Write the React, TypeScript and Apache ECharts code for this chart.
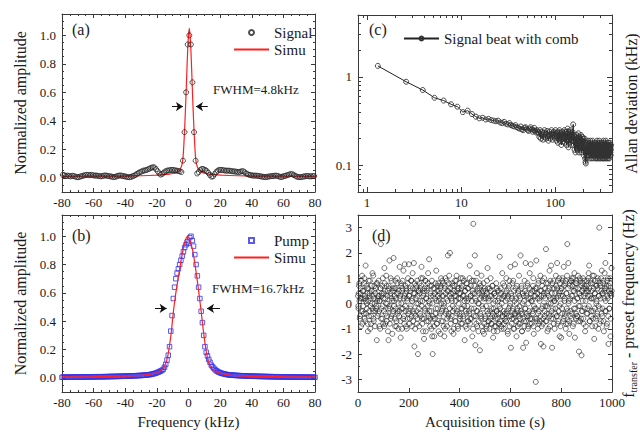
import React, { useEffect, useRef } from "react";
import * as echarts from "echarts";

const FONT = "'Liberation Serif', 'DejaVu Serif', serif";
const TXT = "#1a1a1a";
const AX = "#3a3a3a";
const RED = "#ff1f1f";
const BLUE = "#2f2ff0";

// ---------- (a) signal spectrum ----------
const signalStart = -79.5;
const signalStep = 1;
const signalAmp = [
  0.02, 0.018, 0.012, 0.015, 0.012, 0.01, 0.014, 0.012, 0.008, 0.004,
  0.004, 0.008, 0.012, 0.015, 0.018, 0.02, 0.02, 0.018, 0.02, 0.018,
  0.015, 0.016, 0.014, 0.012, 0.01, 0.012, 0.015, 0.016, 0.014, 0.012,
  0.01, 0.008, 0.005, 0.006, 0.01, 0.014, 0.016, 0.015, 0.012, 0.01,
  0.008, 0.005, 0.004, 0.006, 0.01, 0.014, 0.02, 0.028, 0.035, 0.04,
  0.045, 0.05, 0.052, 0.055, 0.06, 0.065, 0.07, 0.074, 0.072, 0.06,
  0.045, 0.03, 0.022, 0.028, 0.038, 0.045, 0.05, 0.052, 0.054, 0.055,
  0.054, 0.052, 0.05, 0.048, 0.045, 0.04, 0.12, 0.32, 0.6, 0.936,
  1.0, 0.936, 0.67, 0.32, 0.12, 0.03, 0.04, 0.055, 0.062, 0.06,
  0.055, 0.048, 0.035, 0.02, 0.008, 0.01, 0.025, 0.04, 0.05, 0.055,
  0.055, 0.054, 0.052, 0.05, 0.05, 0.05, 0.048, 0.046, 0.045, 0.044,
  0.042, 0.04, 0.042, 0.045, 0.046, 0.04, 0.03, 0.025, 0.02, 0.018,
  0.016, 0.015, 0.015, 0.014, 0.012, 0.01, 0.008, 0.006, 0.005, 0.006,
  0.008, 0.01, 0.012, 0.012, 0.014, 0.015, 0.012, 0.008, 0.005, 0.008,
  0.012, 0.015, 0.018, 0.022, 0.026, 0.025, 0.02, 0.014, 0.008, 0.005,
  0.004, 0.005, 0.008, 0.01, 0.012, 0.012, 0.01, 0.01, 0.012, 0.012,
];
const simuAX = [-80, -60, -40, -30, -20, -15, -12, -10, -8, -7, -6, -5, -4, -3.5, -3, -2.5, -2, -1.5, -1, -0.5, 0, 0.5, 1, 1.5, 2, 2.5, 3, 3.5, 4, 4.5, 5, 6, 7, 8, 9, 11, 13, 16, 21, 31, 41, 61, 80];
const simuAY = [0.01, 0.011, 0.012, 0.014, 0.018, 0.022, 0.026, 0.03, 0.036, 0.042, 0.05, 0.065, 0.1, 0.14, 0.22, 0.33, 0.46, 0.6, 0.76, 0.9, 1.0, 1.05, 1.0, 0.9, 0.76, 0.6, 0.46, 0.33, 0.22, 0.14, 0.1, 0.065, 0.05, 0.042, 0.036, 0.03, 0.026, 0.022, 0.018, 0.014, 0.012, 0.011, 0.01];
const arrowsA = [
  [[-10.4, 0.5], [-3.5, 0.5]],
  [[12.2, 0.5], [4.7, 0.5]],
];

// ---------- (b) pump spectrum ----------
const pumpStart = -80;
const pumpStep = 0.8;
const pumpAmp = [
  0.004, 0.005, 0.004, 0.005, 0.005, 0.004, 0.005, 0.005, 0.006, 0.005,
  0.005, 0.006, 0.005, 0.006, 0.006, 0.005, 0.006, 0.006, 0.006, 0.007,
  0.006, 0.007, 0.007, 0.006, 0.007, 0.007, 0.008, 0.007, 0.007, 0.008,
  0.008, 0.008, 0.007, 0.008, 0.009, 0.008, 0.009, 0.009, 0.009, 0.01,
  0.009, 0.01, 0.01, 0.01, 0.011, 0.01, 0.011, 0.011, 0.012, 0.011,
  0.012, 0.012, 0.012, 0.013, 0.013, 0.014, 0.014, 0.014, 0.015, 0.015,
  0.016, 0.016, 0.017, 0.017, 0.018, 0.019, 0.019, 0.02, 0.021, 0.022, 0.024,
  0.026, 0.028, 0.03, 0.033, 0.036, 0.04, 0.044, 0.048, 0.053, 0.06,
  0.075, 0.095, 0.125, 0.16, 0.22, 0.33, 0.44, 0.56, 0.64, 0.7,
  0.74, 0.77, 0.8, 0.83, 0.86, 0.89, 0.92, 0.94, 0.96, 0.95,
  0.99, 1.0, 0.97, 0.93, 0.87, 0.8, 0.72, 0.64, 0.56, 0.47,
  0.39, 0.3, 0.22, 0.18, 0.155, 0.13, 0.11, 0.09, 0.078, 0.068,
  0.058, 0.05, 0.045, 0.04, 0.036, 0.033, 0.03, 0.028, 0.026,
  0.024, 0.022, 0.021, 0.02, 0.019, 0.019, 0.018, 0.017, 0.017, 0.016,
  0.016, 0.015, 0.015, 0.014, 0.014, 0.014, 0.013, 0.013, 0.012, 0.012,
  0.012, 0.011, 0.012, 0.011, 0.011, 0.01, 0.011, 0.01, 0.01, 0.009,
  0.01, 0.009, 0.009, 0.009, 0.008, 0.009, 0.008, 0.008, 0.008, 0.007,
  0.008, 0.007, 0.007, 0.007, 0.007, 0.006, 0.007, 0.006, 0.006, 0.006,
  0.006, 0.006, 0.005, 0.006, 0.005, 0.005, 0.006, 0.005, 0.005, 0.005,
  0.005, 0.004, 0.005, 0.005, 0.004, 0.005, 0.004, 0.004, 0.005, 0.004, 0.004,
];
const simuBX = [-80, -60, -40, -30, -25, -20, -18, -16, -15, -14, -13, -12, -11, -10, -9, -8, -7, -6, -5, -4, -3, -2, -1, 0, 1, 2, 3, 4, 5, 6, 7, 8, 9, 10, 11, 12, 13, 14, 16, 18, 20, 25, 30, 40, 60, 80];
const simuBY = [0.007, 0.008, 0.012, 0.017, 0.024, 0.038, 0.048, 0.065, 0.085, 0.115, 0.16, 0.23, 0.31, 0.42, 0.52, 0.6, 0.67, 0.74, 0.81, 0.87, 0.93, 0.97, 0.995, 0.995, 0.97, 0.93, 0.88, 0.81, 0.73, 0.65, 0.56, 0.47, 0.37, 0.28, 0.2, 0.14, 0.1, 0.075, 0.05, 0.04, 0.033, 0.022, 0.016, 0.011, 0.008, 0.007];
const arrowsB = [
  [[-21.2, 0.49], [-13.8, 0.49]],
  [[19.9, 0.49], [11.7, 0.49]],
];

// ---------- (c) Allan deviation ----------
const allanTauStep = 1.3;
const allanDev = [
  1.33, 0.88, 0.71, 0.58, 0.54, 0.49, 0.46, 0.4, 0.415, 0.38, 0.355, 0.34, 0.345, 0.33, 0.335,
  0.325, 0.32, 0.315, 0.32, 0.305, 0.3, 0.31, 0.295, 0.29, 0.3, 0.285, 0.28, 0.275, 0.285, 0.27,
  0.265, 0.26, 0.275, 0.255, 0.25, 0.265, 0.27, 0.26, 0.25, 0.245, 0.26, 0.27, 0.255, 0.24, 0.25, 0.265, 0.245, 0.235, 0.25, 0.24,
  0.23, 0.21, 0.25, 0.2, 0.24, 0.22, 0.195, 0.235, 0.25, 0.21, 0.2, 0.23, 0.245, 0.215, 0.19, 0.22, 0.24, 0.2, 0.225, 0.25, 0.21, 0.195, 0.23, 0.24, 0.205, 0.215, 0.25, 0.22, 0.19, 0.235,
  0.22, 0.18, 0.24, 0.2, 0.25, 0.19, 0.21, 0.23, 0.17, 0.22, 0.24, 0.2, 0.185, 0.23, 0.21, 0.25, 0.18, 0.2, 0.24, 0.215,
  0.17, 0.23, 0.2, 0.26, 0.19, 0.16, 0.22, 0.24, 0.18, 0.21, 0.25, 0.2, 0.17, 0.23, 0.21, 0.19, 0.24, 0.22, 0.29, 0.2,
  0.17, 0.22, 0.15, 0.2, 0.18, 0.14, 0.21, 0.19, 0.16, 0.22, 0.18, 0.15, 0.2, 0.17, 0.23, 0.16, 0.14, 0.19, 0.21, 0.17,
  0.15, 0.2, 0.18, 0.22, 0.16, 0.14, 0.19, 0.17, 0.21, 0.15, 0.18, 0.2, 0.16, 0.13, 0.19, 0.17, 0.15, 0.2, 0.12, 0.16,
  0.11, 0.105, 0.14, 0.17, 0.12, 0.15, 0.18, 0.14, 0.16, 0.13, 0.19, 0.15, 0.17, 0.13, 0.16, 0.18, 0.14, 0.12, 0.17, 0.15,
  0.19, 0.13, 0.16, 0.14, 0.18, 0.12, 0.15, 0.17, 0.13, 0.16, 0.19, 0.14, 0.12, 0.17, 0.15, 0.13, 0.18, 0.16, 0.14, 0.17,
  0.15, 0.13, 0.17, 0.12, 0.16, 0.18, 0.14, 0.15, 0.12, 0.17, 0.13, 0.16, 0.19, 0.14, 0.12, 0.16, 0.15, 0.13, 0.18, 0.14,
  0.12, 0.17, 0.15, 0.13, 0.16, 0.19, 0.14, 0.12, 0.15, 0.17, 0.13, 0.16, 0.14, 0.12, 0.18, 0.15, 0.13, 0.17, 0.14, 0.16,
  0.13, 0.17, 0.12, 0.15, 0.18, 0.14, 0.12, 0.16, 0.19, 0.13, 0.15, 0.17, 0.12, 0.14, 0.16, 0.13, 0.18, 0.15, 0.12, 0.17,
  0.14, 0.16, 0.13, 0.19, 0.15, 0.12, 0.17, 0.14, 0.16, 0.13, 0.15, 0.18, 0.14, 0.12, 0.16, 0.15, 0.17, 0.13, 0.14, 0.16,
  0.12, 0.15, 0.18, 0.13, 0.16, 0.14, 0.17, 0.15, 0.12, 0.16, 0.14, 0.18, 0.13, 0.15, 0.17, 0.14, 0.16, 0.13, 0.15, 0.17,
];
const allanMinorX = [0.9, 2, 3, 4, 5, 6, 7, 8, 9, 20, 30, 40, 50, 60, 70, 80, 90, 200, 300, 400];
const allanMinorY = [0.06, 0.07, 0.08, 0.09, 0.2, 0.3, 0.4, 0.5, 0.6, 0.7, 0.8, 0.9, 2, 3, 4, 5];

// ---------- (d) transfer frequency deviation (even and odd seconds) ----------
const transferStep = 2;
const transferEven = [
  0.3, -0.2, 0.7, 0.1, -0.5, 0.4, -0.9, 0.2, 1.1, -0.3,
  0.5, -0.1, 0.8, -0.6, 0.2, 1.5, -0.4, 0.0, 0.6, -0.8,
  0.1, 0.9, -0.3, 0.4, -1.0, 0.2, -0.5, 0.7, 0.3, -0.2,
  1.1, -0.7, 0.5, 0.0, -0.3, 0.6, -0.1, -1.45, 0.8, 0.2,
  -0.4, 0.3, -0.9, 0.1, 0.6, 2.35, -0.2, 0.4, -0.6, 1.0,
  0.2, -0.3, 1.4, 0.5, -0.8, 0.0, 0.7, -0.5, 0.3, -1.1,
  -1.45, 0.6, 1.7, -0.2, 0.4, -0.6, 0.9, 0.1, -0.4, 0.5,
  1.8, -0.1, 0.3, -0.9, 0.6, 0.2, -0.7, 1.0, -0.3, 0.4,
  0.0, -0.5, 1.45, 0.3, -1.35, 0.7, -0.2, 0.5, 0.9, -0.6,
  0.2, -0.8, 1.55, 0.4, -0.3, 0.6, -1.0, 0.1, 0.8, -0.4,
  1.55, 0.3, -0.6, 0.5, -0.1, 0.9, -0.9, 0.2, 0.6, -0.3,
  1.6, -1.7, 0.4, -0.5, 0.7, 0.0, -0.8, 0.3, -2.0, 0.5,
  -0.2, 0.8, -0.4, 0.6, 1.0, 1.45, -0.6, 0.1, -1.1, 0.4,
  -1.4, 0.5, -0.3, 0.9, 0.2, -0.7, 0.6, -0.1, 1.2, -0.5,
  1.75, 0.0, -0.9, 0.4, -0.3, 0.7, -1.3, -2.0, 0.3, -0.6,
  -1.3, 0.6, 0.2, -0.4, 1.3, -0.8, 0.5, -0.2, 0.8, 0.1,
  -0.5, 0.4, -1.2, 0.7, 0.0, -0.3, 0.9, -0.7, 0.3, -0.1,
  -1.3, 0.6, 1.0, -0.4, 0.2, -0.9, 0.5, 1.9, -0.5, 0.8,
  0.3, 2.0, -0.6, 0.4, -1.1, 0.1, 0.7, -0.3, -1.2, 0.5,
  -0.2, 0.9, -0.7, 0.3, 1.1, -0.4, 0.6, -1.0, 0.0, 0.4,
  0.8, -0.5, 0.2, -0.8, 0.6, -0.2, 1.0, -0.6, 0.3, -0.1,
  -1.45, 0.5, -0.3, 0.8, -1.0, 0.1, 0.6, -0.7, 0.2, -0.4,
  1.5, -0.6, 0.3, -0.2, 0.9, -1.3, 0.4, 3.15, -0.5, 0.7,
  1.9, -1.65, 0.1, -0.8, 1.2, -0.3, 0.5, -1.1, 0.0, 0.6,
  -1.85, 0.2, -0.5, 1.1, -0.9, 0.4, -0.2, 0.8, -1.2, 0.3,
  -0.6, 0.5, -0.1, -1.0, 0.9, 1.4, -0.4, 0.2, -0.7, 0.6,
  -0.3, 1.0, -0.8, 0.3, -0.5, 0.7, -1.35, -0.2, 0.4, -0.9,
  0.1, -0.6, 0.8, -0.3, -1.1, 0.5, -0.4, 0.2, -0.8, 1.85,
  -0.2, 0.6, -0.9, 0.0, 1.2, -0.5, 0.3, -1.0, 0.7, -0.4,
  0.4, -0.7, 1.0, -0.3, 0.2, -1.2, 0.6, -0.5, 0.9, -0.1,
  1.45, -1.75, 0.3, -0.6, 0.8, -0.2, -1.0, 0.5, -0.4, 1.55,
  -0.5, 0.2, -1.3, 0.7, -0.3, 0.4, -0.8, 1.1, -0.1, -0.6,
  1.9, -0.4, 0.6, -1.1, 0.0, -1.75, 0.3, -0.7, 0.9, -0.2,
  1.6, -1.55, 0.4, -0.5, 0.7, -0.9, 0.2, -0.3, 1.2, -0.6,
  1.55, 0.1, -0.8, 0.5, -0.4, 1.0, -1.2, 0.3, -0.2, 0.6,
  -3.1, 1.7, -0.6, 0.4, -1.0, 0.8, -0.3, 0.2, -0.7, 1.1,
  -1.6, 0.5, -0.2, 0.9, -0.8, -1.7, 0.3, -0.5, 0.6, -0.1,
  2.15, -0.7, 0.4, -1.1, 0.8, 0.0, -0.4, 1.3, -0.9, 0.2,
  1.5, -0.3, -1.75, 0.6, -0.6, 0.9, 0.1, -1.0, 0.4, -0.2,
  0.7, -0.5, 1.6, -0.8, 0.3, -0.3, 1.0, -1.3, 0.5, 0.0,
  -1.35, 0.6, -0.4, 0.9, -0.7, 1.45, 0.2, -0.5, 0.8, -1.0,
  0.4, -0.2, 2.35, -0.8, 1.6, 0.1, -1.2, 0.7, -0.3, 0.9,
  -0.6, 1.0, 0.3, -0.9, 0.5, -0.2, 1.2, -1.35, 0.6, -0.4,
  0.8, -0.5, 0.2, 1.1, -0.7, -1.9, 0.4, -0.1, 0.9, -0.6,
  -2.05, 0.5, -0.3, 1.0, -0.8, 0.3, 0.7, -1.1, 0.1, 0.6,
  -0.4, 0.9, -0.2, 0.5, 1.2, 1.5, -0.7, 0.3, 0.8, -0.5,
  0.2, -0.9, 1.1, -0.3, 0.6, -1.4, 0.4, 0.9, -0.6, 0.0,
  0.7, -0.4, 1.0, -1.0, 0.3, 3.0, -0.2, 0.8, -0.7, 0.5,
  1.3, -0.5, 0.4, 0.9, -1.1, 0.2, 0.6, 1.6, -0.3, 0.7,
  -0.8, 0.3, 1.0, -1.6, 0.5, -0.2, 0.8, -1.3, 0.4, 1.4,
];
const transferOdd = [
  -0.1, 0.4, 0.8, -0.6, 0.2, 0.6, -0.3, 0.9, -0.8, 0.5,
  0.2, -0.4, 1.0, 0.3, -0.7, 0.1, 0.7, -0.2, 0.4, -1.1,
  0.6, -0.5, 0.3, 0.9, -0.1, -0.8, 0.5, 0.0, 1.2, -0.3,
  -0.6, 0.2, 0.7, -0.9, 0.4, -0.2, 0.8, 0.1, -0.5, 0.3,
  0.9, -0.3, 0.1, -1.0, 0.6, -0.6, 0.3, 0.7, -0.1, -0.8,
  0.4, -0.9, 0.8, 0.2, -0.4, 1.1, -0.7, 0.0, 0.5, -0.2,
  0.7, -0.1, -0.8, 0.3, 1.0, -0.5, 0.2, -1.2, 0.6, -0.3,
  0.1, 0.6, -0.6, 0.9, -0.2, -0.9, 0.4, 0.8, -0.4, -1.0,
  0.5, -0.3, 0.2, -0.7, 0.8, 0.0, -1.0, 0.6, -0.2, 1.3,
  -0.5, 0.3, -0.1, 0.7, -0.9, 0.5, 0.2, -0.6, 1.0, -0.3,
  0.3, -0.8, 0.6, -0.2, 0.9, -0.5, 0.1, 1.2, -0.7, 0.4,
  -0.4, 0.8, -1.0, 0.2, 0.6, -0.3, 0.9, -0.6, 0.0, 0.5,
  -0.9, 0.4, 0.1, -0.5, 0.7, -0.1, -0.8, 1.0, 0.3, -0.6,
  0.6, -0.2, 0.9, -1.1, 0.2, 0.5, -0.4, 0.8, -0.7, 0.1,
  -0.3, 0.7, -0.6, 0.3, -1.0, 0.9, 0.0, -0.5, 0.6, -0.9,
  0.4, -0.6, 0.8, -0.2, 0.1, -0.8, 0.7, 0.3, -1.1, 0.5,
  0.2, -0.4, 0.6, 1.0, -0.7, 0.3, -0.2, 0.8, -0.9, 0.0,
  0.7, -1.0, 0.4, -0.3, 0.9, -0.6, 0.1, 0.5, -0.4, 1.1,
  -0.2, 0.6, -0.8, 0.2, -0.5, 0.8, -0.1, 0.4, -1.0, 0.7,
  0.3, -0.7, 0.1, 0.9, -0.3, 0.5, -0.9, 0.2, 0.6, -0.4,
  -0.6, 0.4, 1.0, -0.2, 0.7, -0.8, 0.3, -0.5, 0.9, 0.1,
  0.5, -0.9, 0.2, -0.4, 0.8, -0.1, -0.7, 0.6, -0.3, 1.0,
  -0.8, 0.3, 0.7, -0.6, 0.1, 0.5, -1.0, 0.9, -0.2, 0.4,
  0.2, -0.5, 0.9, -0.3, -0.9, 0.6, 0.0, -0.7, 0.4, 0.8,
  -0.4, 0.7, -0.6, 0.3, -0.1, -1.1, 0.5, 0.2, -0.8, 0.6,
  -0.5, 0.2, -0.9, 0.4, -0.3, 0.6, -0.7, 0.1, -1.0, 0.3,
  -0.6, 0.5, -0.2, -0.8, 0.7, -0.4, 0.0, -1.1, 0.4, -0.5,
  0.3, -0.9, -0.3, 0.6, -0.6, 0.1, -0.8, 0.5, -0.1, -0.7,
  -0.4, 0.4, -1.0, 0.2, -0.5, 0.8, -0.3, -0.8, 0.3, -0.6,
  0.1, -0.7, 0.5, -0.4, -1.1, 0.3, -0.2, 0.7, -0.9, 0.0,
  -0.5, 0.4, -0.8, 0.2, -0.3, 0.9, -0.6, -1.0, 0.1, -0.4,
  0.6, -0.7, 0.0, -0.2, -0.9, 0.5, -0.5, 0.3, -0.8, 0.2,
  -0.3, 0.7, -1.1, -0.4, 0.4, -0.6, 0.1, -0.9, 0.5, -0.2,
  -0.7, 0.3, -0.4, 0.8, -1.0, 0.0, -0.5, 0.6, -0.8, 0.2,
  0.4, -0.6, 0.1, -0.3, 0.7, -0.9, -0.1, 0.5, -0.6, 0.3,
  -0.2, 0.6, -0.7, 0.2, -0.4, 0.9, -0.8, 0.1, 0.5, -0.5,
  0.3, -0.9, 0.7, -0.1, -0.6, 0.4, 1.0, -0.3, 0.2, -0.7,
  0.8, -0.4, -0.1, 0.5, -1.0, 0.3, 0.6, -0.5, 0.9, 0.0,
  -0.6, 0.4, 0.8, -0.2, 0.2, -0.8, 0.6, 0.1, -0.4, 1.1,
  0.2, -0.5, 0.6, 0.9, -0.7, 0.4, -0.1, 0.8, -0.9, 0.3,
  0.6, -0.2, 1.0, 0.3, -0.6, 0.7, 0.1, -0.4, 0.9, -0.8,
  0.4, 1.1, -0.3, 0.6, 0.0, -0.7, 0.8, 0.2, -0.5, 0.9,
  0.3, -0.4, 0.7, 1.0, -0.8, 0.5, 0.1, -0.2, 0.8, -0.6,
  0.9, 0.2, -0.5, 0.6, -0.1, 0.4, 1.0, -0.7, 0.3, 0.7,
  -0.3, 0.8, 0.1, -0.6, 0.6, 0.9, -0.2, 0.4, -0.9, 0.5,
  0.7, -0.4, 0.3, 1.0, -0.1, 0.6, -0.7, 0.9, 0.2, -0.3,
  0.5, 0.8, -0.6, 0.2, 1.1, -0.2, 0.4, -0.9, 0.7, 0.1,
  -0.5, 0.6, 0.9, -0.1, 0.3, -0.8, 0.7, 0.2, 1.0, -0.4,
  0.4, -0.2, 0.8, -0.7, 0.5, 1.2, -0.3, 0.1, 0.6, -0.9,
  0.9, 0.2, -0.5, 0.7, -0.2, 0.4, 1.0, -0.6, 0.3, 0.5,
];

// ---------- layout ----------
const grids = [
  { left: 62, top: 14, width: 253, height: 178 },
  { left: 62, top: 215, width: 253, height: 177 },
  { left: 358, top: 15, width: 254, height: 177 },
  { left: 358, top: 215, width: 254, height: 177 },
  { left: 358, top: 15, width: 254, height: 177 },
];

function axis(o: any) {
  const a: any = {
    type: o.type || "value",
    gridIndex: o.grid,
    position: o.pos,
    min: o.min,
    max: o.max,
    axisLine: { show: o.line !== false, onZero: false, lineStyle: { color: AX, width: 1 } },
    axisTick: {
      show: true,
      inside: true,
      length: o.tickLen || 4,
      lineStyle: { color: AX, width: 1 },
    },
    minorTick: {
      show: !!o.minor,
      splitNumber: o.minor || 5,
      length: 2,
      lineStyle: { color: AX, width: 1 },
    },
    axisLabel: {
      show: !!o.labels,
      color: TXT,
      fontFamily: FONT,
      fontSize: 13,
      margin: o.margin || 4,
      showMinLabel: o.showEnds !== false,
      showMaxLabel: o.showEnds !== false,
      hideOverlap: false,
    },
    splitLine: { show: false },
  };
  if (o.type === "log") a.logBase = 10;
  if (o.interval !== undefined) a.interval = o.interval;
  if (o.splitNumber !== undefined) a.splitNumber = o.splitNumber;
  if (o.formatter) a.axisLabel.formatter = o.formatter;
  if (o.customTicks) a.axisTick.customValues = o.customTicks;
  if (o.name) {
    a.name = o.name;
    a.nameLocation = "middle";
    a.nameGap = o.nameGap;
    if (o.nameRotate !== undefined) a.nameRotate = o.nameRotate;
    a.nameTextStyle = { fontFamily: FONT, fontSize: o.nameSize || 16, color: TXT, ...(o.nameStyle || {}) };
  }
  return a;
}

const fmt1 = (v: number) => v.toFixed(1);
const fmtPlain = (v: number) => String(v);

function arrowMarkLine(arrows: number[][][]) {
  return {
    silent: true,
    symbol: ["none", "arrow"],
    symbolSize: 7,
    label: { show: false },
    lineStyle: { color: "#111", width: 1, type: "solid" },
    itemStyle: { color: "#111" },
    emphasis: { disabled: true },
    data: arrows.map((seg) => [{ coord: seg[0] }, { coord: seg[1] }]),
  };
}

function buildOption(): any {
  const xAxes = [
    axis({ grid: 0, pos: "bottom", min: -80, max: 80, interval: 20, minor: 4, labels: true, formatter: fmtPlain }),
    axis({ grid: 0, pos: "top", min: -80, max: 80, interval: 20, minor: 4 }),
    axis({ grid: 1, pos: "bottom", min: -80, max: 80, interval: 20, minor: 4, labels: true, formatter: fmtPlain, name: "Frequency (kHz)", nameGap: 22, nameSize: 15 }),
    axis({ grid: 1, pos: "top", min: -80, max: 80, interval: 20, minor: 4 }),
    axis({ grid: 2, pos: "bottom", type: "log", min: 0.8, max: 400, labels: true, showEnds: false, tickLen: 5 }),
    axis({ grid: 2, pos: "top", type: "log", min: 0.8, max: 400, tickLen: 5 }),
    axis({ grid: 3, pos: "bottom", min: 0, max: 1000, interval: 200, labels: true, formatter: fmtPlain, name: "Acquisition time (s)", nameGap: 22, nameSize: 15 }),
    axis({ grid: 3, pos: "top", min: 0, max: 1000, interval: 200 }),
    axis({ grid: 4, pos: "bottom", type: "log", min: 0.8, max: 400, line: false, tickLen: 3, customTicks: allanMinorX }),
    axis({ grid: 4, pos: "top", type: "log", min: 0.8, max: 400, line: false, tickLen: 3, customTicks: allanMinorX }),
  ];
  const yAxes = [
    axis({ grid: 0, pos: "left", min: -0.1, max: 1.15, splitNumber: 6, minor: 4, labels: true, showEnds: false, formatter: fmt1, margin: 6, name: "Normalized amplitude", nameGap: 34 }),
    axis({ grid: 0, pos: "right", min: -0.1, max: 1.15, splitNumber: 6, minor: 4 }),
    axis({ grid: 1, pos: "left", min: -0.1, max: 1.15, splitNumber: 6, minor: 4, labels: true, showEnds: false, formatter: fmt1, margin: 6, name: "Normalized amplitude", nameGap: 34 }),
    axis({ grid: 1, pos: "right", min: -0.1, max: 1.15, splitNumber: 6, minor: 4 }),
    axis({ grid: 2, pos: "left", type: "log", min: 0.05, max: 5, labels: true, showEnds: false, margin: 6, tickLen: 5 }),
    axis({ grid: 2, pos: "right", type: "log", min: 0.05, max: 5, tickLen: 5, name: "Allan deviation (kHz)", nameGap: 11, nameRotate: 90 }),
    axis({ grid: 3, pos: "left", min: -3.5, max: 3.5, splitNumber: 7, minor: 2, labels: true, showEnds: false, formatter: fmtPlain, margin: 6 }),
    axis({
      grid: 3, pos: "right", min: -3.5, max: 3.5, splitNumber: 7, minor: 2,
      name: "{m|f}{s|transfer}{m| - preset frequency (Hz)}", nameGap: 6, nameRotate: 90,
      nameStyle: {
        rich: {
          m: { fontFamily: FONT, fontSize: 16, color: TXT, lineHeight: 20 },
          s: { fontFamily: FONT, fontSize: 10, color: TXT, verticalAlign: "bottom", lineHeight: 20 },
        },
      },
    }),
    axis({ grid: 4, pos: "left", type: "log", min: 0.05, max: 5, line: false, tickLen: 3, customTicks: allanMinorY }),
    axis({ grid: 4, pos: "right", type: "log", min: 0.05, max: 5, line: false, tickLen: 3, customTicks: allanMinorY }),
  ];

  const legendText = { fontFamily: FONT, fontSize: 15, color: TXT };
  const legendBase = {
    orient: "vertical",
    itemWidth: 35,
    itemHeight: 5,
    itemGap: 2,
    padding: 0,
    selectedMode: false,
    symbolKeepAspect: true,
    textStyle: legendText,
  };
  const squareIcon = "path://M0,0H10V10H0Z";

  const textEl = (text: string, x: number, y: number, size: number) => ({
    type: "text",
    x,
    y,
    silent: true,
    style: { text, fontFamily: FONT, fontSize: size, fill: TXT, verticalAlign: "middle", align: "left" },
  });

  const transferData: number[][] = [];
  transferEven.forEach((y, i) => {
    transferData.push([i * transferStep, y]);
    if (i < transferOdd.length) transferData.push([i * transferStep + 1, transferOdd[i]]);
  });

  return {
    animation: false,
    backgroundColor: "#ffffff",
    grid: grids.map((g) => ({ ...g, containLabel: false, outerBoundsMode: "none" })),
    xAxis: xAxes,
    yAxis: yAxes,
    legend: [
      { ...legendBase, data: [{ name: "Signal", icon: "circle" }, "Simu"], left: 233, top: 25 },
      { ...legendBase, data: [{ name: "Pump", icon: squareIcon }, "Simu"], left: 233, top: 233 },
      { ...legendBase, data: ["Signal beat with comb"], left: 403, top: 31 },
    ],
    graphic: [
      textEl("(a)", 72, 29, 16),
      textEl("(b)", 72, 235, 16),
      textEl("(c)", 369, 29, 16),
      textEl("(d)", 372, 235, 16),
      textEl("FWHM=4.8kHz", 213, 89, 13),
      textEl("FWHM=16.7kHz", 212, 288, 13),
    ],
    series: [
      {
        type: "line",
        name: "Simu",
        xAxisIndex: 0,
        yAxisIndex: 0,
        data: simuAX.map((x, i) => [x, simuAY[i]]),
        symbol: "none",
        smooth: 0.2,
        itemStyle: { color: "transparent" },
        lineStyle: { color: RED, width: 1.2 },
        z: 2,
        markLine: arrowMarkLine(arrowsA),
      },
      {
        type: "scatter",
        name: "Signal",
        xAxisIndex: 0,
        yAxisIndex: 0,
        data: signalAmp.map((y, i) => [signalStart + i * signalStep, y]),
        symbol: "circle",
        symbolSize: 5,
        itemStyle: { color: "transparent", borderColor: "#222", borderWidth: 1 },
        z: 3,
      },
      {
        type: "scatter",
        name: "Pump",
        xAxisIndex: 2,
        yAxisIndex: 2,
        data: pumpAmp.map((y, i) => [pumpStart + i * pumpStep, y]),
        symbol: "rect",
        symbolSize: 4.5,
        itemStyle: { color: "transparent", borderColor: BLUE, borderWidth: 1 },
        z: 2,
      },
      {
        type: "line",
        name: "Simu",
        xAxisIndex: 2,
        yAxisIndex: 2,
        data: simuBX.map((x, i) => [x, simuBY[i]]),
        symbol: "none",
        smooth: 0.2,
        itemStyle: { color: "transparent" },
        lineStyle: { color: RED, width: 1.2 },
        z: 3,
        markLine: arrowMarkLine(arrowsB),
      },
      {
        type: "line",
        name: "Signal beat with comb",
        xAxisIndex: 4,
        yAxisIndex: 4,
        data: allanDev.map((y, i) => [(i + 1) * allanTauStep, y]),
        symbol: "circle",
        symbolSize: 5,
        showSymbol: true,
        itemStyle: { color: "transparent", borderColor: "#333", borderWidth: 0.9 },
        lineStyle: { color: "#222", width: 1 },
        z: 3,
      },
      {
        type: "scatter",
        name: "transfer",
        xAxisIndex: 6,
        yAxisIndex: 6,
        data: transferData,
        symbol: "circle",
        symbolSize: 5,
        itemStyle: { color: "transparent", borderColor: "#222", borderWidth: 0.8 },
        z: 3,
      },
    ],
  };
}

export default function App() {
  const ref = useRef<HTMLDivElement>(null);
  useEffect(() => {
    document.body.style.margin = "0";
    const chart = echarts.init(ref.current as HTMLDivElement, undefined, { renderer: "svg" });
    chart.setOption(buildOption());
    return () => chart.dispose();
  }, []);
  return <div ref={ref} style={{ width: 640, height: 434 }} />;
}
